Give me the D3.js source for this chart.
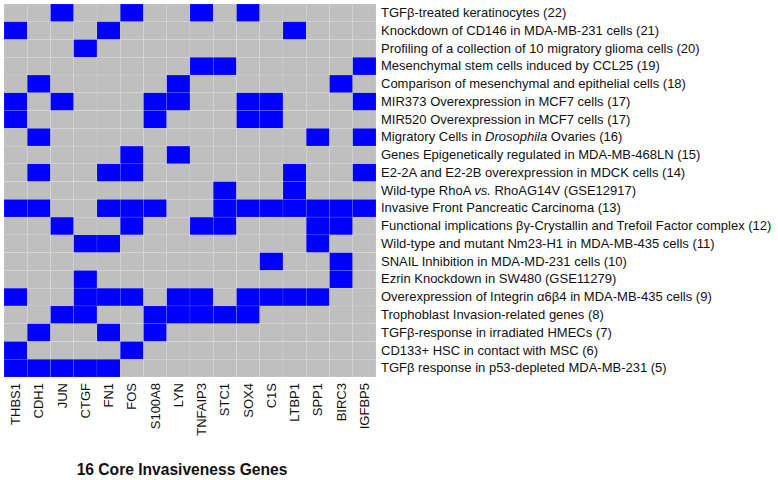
<!DOCTYPE html>
<html><head><meta charset="utf-8">
<script src="https://cdn.jsdelivr.net/npm/d3@7"></script>
<style>
body{margin:0;background:#fff;}
text{font-family:"Liberation Sans",Arial,Helvetica,sans-serif;}
</style></head>
<body><svg id="c" width="778" height="480"></svg>
<script>
const genes = ["THBS1","CDH1","JUN","CTGF","FN1","FOS","S100A8","LYN","TNFAIP3","STC1","SOX4","C1S","LTBP1","SPP1","BIRC3","IGFBP5"];
const studies = [
 "TGFβ-treated keratinocytes (22)",
 "Knockdown of CD146 in MDA-MB-231 cells (21)",
 "Profiling of a collection of 10 migratory glioma cells (20)",
 "Mesenchymal stem cells induced by CCL25 (19)",
 "Comparison of mesenchymal and epithelial cells (18)",
 "MIR373 Overexpression in MCF7 cells (17)",
 "MIR520 Overexpression in MCF7 cells  (17)",
 "Migratory Cells in *Drosophila* Ovaries (16)",
 "Genes Epigenetically regulated in MDA-MB-468LN (15)",
 "E2-2A and E2-2B overexpression in MDCK cells (14)",
 "Wild-type RhoA *vs.* RhoAG14V (GSE12917)",
 "Invasive Front Pancreatic Carcinoma (13)",
 "Functional implications βγ-Crystallin and Trefoil Factor complex (12)",
 "Wild-type and mutant Nm23-H1 in MDA-MB-435 cells (11)",
 "SNAIL Inhibition in MDA-MD-231 cells (10)",
 "Ezrin Knockdown in SW480 (GSE11279)",
 "Overexpression of Integrin α6β4 in MDA-MB-435 cells (9)",
 "Trophoblast Invasion-related genes (8)",
 "TGFβ-response in irradiated HMECs (7)",
 "CD133+ HSC in contact with MSC (6)",
 "TGFβ response in p53-depleted MDA-MB-231 (5)"
];
// membership: 1 = gene reported in study (columns follow genes)
const membership = [
 [0,0,1,0,0,1,0,0,1,0,1,0,0,0,0,0],
 [1,0,0,0,1,0,0,0,0,0,0,0,1,0,0,0],
 [0,0,0,1,0,0,0,0,0,0,0,0,0,0,0,0],
 [0,0,0,0,0,0,0,0,1,1,0,0,0,0,0,1],
 [0,1,0,0,0,0,0,1,0,0,0,0,0,0,1,0],
 [1,0,1,0,0,0,1,1,0,0,1,1,0,0,0,1],
 [1,0,0,0,0,0,1,0,0,0,1,1,0,0,0,0],
 [0,1,0,0,0,0,0,0,0,0,0,0,0,1,0,1],
 [0,0,0,0,0,1,0,1,0,0,0,0,0,0,0,0],
 [0,1,0,0,1,1,0,0,0,0,0,0,1,0,0,1],
 [0,0,0,0,0,0,0,0,0,1,0,0,1,0,0,0],
 [1,1,0,0,1,1,1,0,0,1,1,1,1,1,1,1],
 [0,0,1,0,0,1,0,0,1,1,0,0,0,1,1,0],
 [0,0,0,1,1,0,0,0,0,0,0,0,0,1,0,0],
 [0,0,0,0,0,0,0,0,0,0,0,1,0,0,1,0],
 [0,0,0,1,0,0,0,0,0,0,0,0,0,0,1,0],
 [1,0,0,1,1,1,0,1,1,0,1,1,1,1,0,0],
 [0,0,1,1,0,0,1,1,1,1,1,0,0,0,0,0],
 [0,1,0,0,1,0,1,0,0,0,0,0,0,0,0,0],
 [1,0,0,0,0,1,0,0,0,0,0,0,0,0,0,0],
 [1,1,1,1,1,0,0,0,0,0,0,0,0,0,0,0]
];
const title = "16 Core Invasiveness Genes";

const svg = d3.select("#c");
const gL = 4, gR = 376, gT = 4, gB = 377;
const x = d3.scaleBand().domain(genes).range([gL, gR]);
const y = d3.scaleBand().domain(studies).range([gT, gB]);
const color = d3.scaleOrdinal().domain([0,1]).range(["#bfbfbf","#0000ff"]);

const cells = [];
membership.forEach((row,i)=>row.forEach((v,j)=>cells.push({s:studies[i],g:genes[j],v})));

svg.append("g").selectAll("rect").data(cells).join("rect")
  .attr("x",d=>x(d.g)).attr("y",d=>y(d.s))
  .attr("width",x.bandwidth()).attr("height",y.bandwidth())
  .attr("fill",d=>color(d.v))
  .attr("stroke","rgba(255,255,255,0.18)").attr("stroke-width",0.6);

// right axis with study names
const ya = svg.append("g").attr("transform",`translate(${gR},0)`)
  .call(d3.axisRight(y).tickSize(0).tickPadding(5));
ya.select(".domain").remove();
ya.selectAll("text").attr("font-size",13).attr("fill","#111")
  .each(function(d){
    const t = d3.select(this); t.text(null);
    d.split("*").forEach((part,k)=>{
      if(!part) return;
      t.append("tspan").text(part).attr("font-style",k%2?"italic":"normal");
    });
  });

// bottom axis with gene names
const xa = svg.append("g").attr("transform",`translate(0,${gB})`)
  .call(d3.axisBottom(x).tickSize(0).tickPadding(0));
xa.select(".domain").remove();
xa.selectAll("text").attr("font-size",13).attr("fill","#111")
  .attr("text-anchor","end").attr("dy","0.35em")
  .attr("transform","translate(0,6) rotate(-90)").attr("x",0).attr("y",0);

svg.append("text").attr("x",182).attr("y",475).attr("text-anchor","middle")
  .attr("font-size",15.6).attr("font-weight","bold").attr("fill","#111").text(title);
</script></body></html>
